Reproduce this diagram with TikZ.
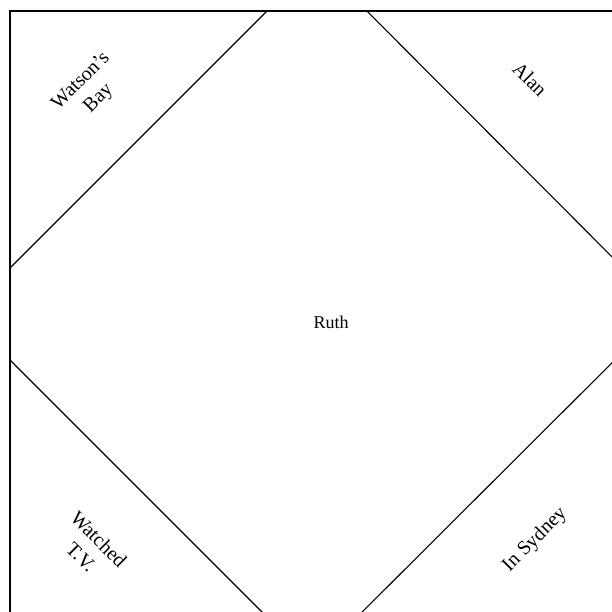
\documentclass[tikz,border=0pt]{standalone}
\usepackage{fontspec}
\setmainfont{Liberation Serif}
\begin{document}
\begin{tikzpicture}[x=1pt,y=-1pt,line width=1.1pt,
  lbl/.style={font=\fontsize{18}{22}\selectfont,align=center,inner sep=0pt},
  dlbl/.style={lbl,font=\fontsize{20}{25}\selectfont}]

\useasboundingbox (0,0) rectangle (612,612);
\clip (0,0) rectangle (612,612);

\coordinate (tl) at (10,11);
\coordinate (br) at (660,660);

\coordinate (N) at (317,-39);
\coordinate (W) at (-36,314);
\coordinate (S) at (312,662);
\coordinate (E) at (665,310);

\draw (tl) rectangle (br);

\begin{scope}
  \clip (tl) rectangle (br);
  \draw (N) -- (E) -- (S) -- (W) -- cycle;
\end{scope}

\node[lbl] (ruth) at (331,322) {Ruth};
\node[dlbl,rotate=45] (bay) at (90,90) {Watson's\\Bay};
\node[dlbl,rotate=-45] (alan) at (530,79) {Alan};
\node[dlbl,rotate=-45] (tv) at (90,548) {Watched\\T.V.};
\node[dlbl,rotate=45] (sydney) at (535,540) {In Sydney};
\end{tikzpicture}
\end{document}
